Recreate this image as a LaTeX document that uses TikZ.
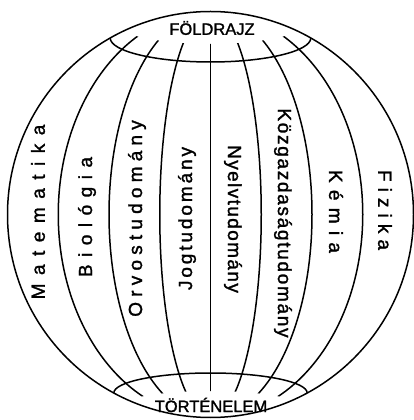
\documentclass[tikz,border=0pt]{standalone}
\usepackage{fontspec}
\setmainfont[FakeBold=1.5]{Liberation Sans}
\makeatletter
\newcommand\lsp[2]{\def\lsp@k{\kern#1}\lsp@a#2\relax}
\def\lsp@a#1{\ifx\relax#1\unkern\else#1\lsp@k\expandafter\lsp@a\fi}
\makeatother
\tikzset{
  lin/.style={line width=1.5pt},
  lab/.style={inner sep=0pt, font=\fontsize{19}{22}\selectfont},
  captext/.style={inner sep=0pt, font=\fontsize{16.5}{19}\selectfont}
}
\begin{document}
\begin{tikzpicture}[x=1pt,y=1pt]
\useasboundingbox (0,0) rectangle (414,420);
\coordinate (c) at (210.5,205.5);
% meridians clipped between caps
\begin{scope}
\clip (-10,400) -- (110.5,400) arc[start angle=180,end angle=360,x radius=100,y radius=24]
  -- (430,400) -- (430,9) -- (310.5,9) arc[start angle=0,end angle=180,x radius=100,y radius=20]
  -- (-10,9) -- cycle;
\foreach \a in {50.75,101.5,152.25}{
  \draw[lin] (c) ellipse[x radius=\a, y radius=203];
}
\draw[lin] (210.5,0) -- (210.5,420);
\end{scope}
% globe outline
\draw[lin] (c) circle[radius=203];
% caps
\draw[lin] (110.2,382) arc[start angle=180,end angle=360,x radius=100.3,y radius=24];
\draw[lin] (113.8,27) arc[start angle=180,end angle=0,x radius=96.7,y radius=20];
\node[captext] (fold) at (212,392) {FÖLDRAJZ};
\node[captext] (tort) at (211,15) {TÖRTÉNELEM};
% labels
\node[lab,rotate=90] (mat) at (38,208) {\lsp{8.5pt}{Matematika}};
\node[lab,rotate=90] (bio) at (87,203) {\lsp{7.5pt}{Biológia}};
\node[lab,rotate=90] (orv) at (137,201.5) {\lsp{5.2pt}{Orvostudomány}};
\node[lab,rotate=90] (jog) at (187,201.5) {\lsp{2.9pt}{Jogtudomány}};
\node[lab,rotate=-90] (nye) at (233,201) {\lsp{1.4pt}{Nyelvtudomány}};
\node[lab,rotate=-90] (koz) at (283,197) {\lsp{1.7pt}{Közgazdaságtudomány}};
\node[lab,rotate=-90] (kem) at (336,208.5) {\lsp{7.3pt}{Kémia}};
\node[lab,rotate=-90] (fiz) at (385,210) {\lsp{6.1pt}{Fizika}};
\end{tikzpicture}
\end{document}
